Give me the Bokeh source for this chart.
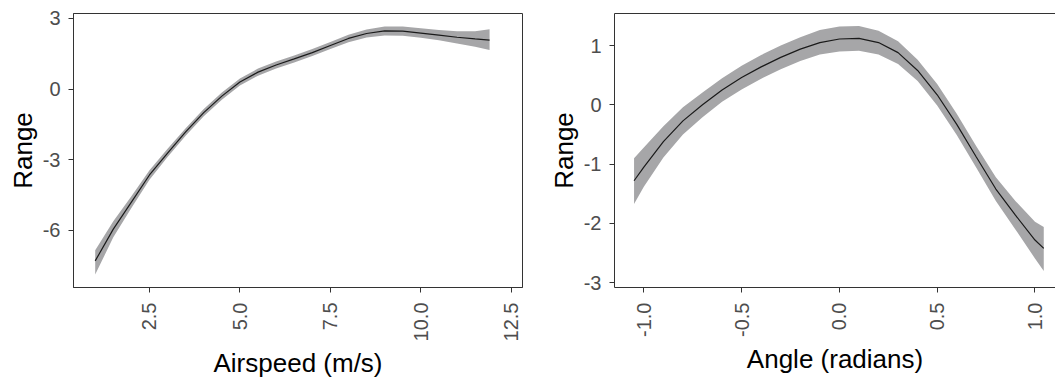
import math
from bokeh.plotting import figure
from bokeh.models import Range1d, FixedTicker, NumeralTickFormatter, LinearAxis
from bokeh.layouts import row
from bokeh.embed import file_html
from bokeh.resources import INLINE

# ---- Left panel: Airspeed ----
airspeed = [1.0, 1.5, 2.0, 2.5, 3.0, 3.5, 4.0, 4.5, 5.0, 5.5, 6.0, 6.5,
            7.0, 7.5, 8.0, 8.5, 9.0, 9.5, 10.0, 10.5, 11.0, 11.5, 11.9]
air_fit = [-7.30, -5.95, -4.80, -3.65, -2.72, -1.82, -1.00, -0.30, 0.30, 0.72, 1.02, 1.28,
           1.55, 1.85, 2.15, 2.36, 2.47, 2.46, 2.38, 2.29, 2.20, 2.13, 2.08]
air_lo = [-7.88, -6.30, -5.05, -3.85, -2.89, -1.98, -1.15, -0.45, 0.15, 0.57, 0.87, 1.13,
          1.40, 1.70, 1.99, 2.19, 2.28, 2.26, 2.18, 2.07, 1.94, 1.80, 1.66]
air_hi = [-6.85, -5.62, -4.55, -3.45, -2.54, -1.66, -0.85, -0.15, 0.45, 0.87, 1.17, 1.43,
          1.70, 2.00, 2.31, 2.53, 2.66, 2.66, 2.58, 2.51, 2.46, 2.46, 2.54]
air_xticks = [2.5, 5.0, 7.5, 10.0, 12.5]
air_yticks = [-6, -3, 0, 3]

# ---- Right panel: Angle ----
angle = [-1.05, -1.0, -0.9, -0.8, -0.7, -0.6, -0.5, -0.4, -0.3, -0.2, -0.1, 0.0,
         0.1, 0.2, 0.3, 0.4, 0.5, 0.6, 0.7, 0.8, 0.9, 1.0, 1.045]
ang_fit = [-1.28, -1.05, -0.62, -0.27, 0.00, 0.25, 0.46, 0.64, 0.80, 0.94, 1.05, 1.11,
           1.12, 1.05, 0.88, 0.58, 0.17, -0.33, -0.88, -1.42, -1.86, -2.28, -2.42]
ang_lo = [-1.67, -1.38, -0.89, -0.50, -0.21, 0.05, 0.26, 0.44, 0.60, 0.74, 0.85, 0.90,
          0.91, 0.85, 0.69, 0.40, -0.01, -0.51, -1.06, -1.62, -2.10, -2.59, -2.80]
ang_hi = [-0.90, -0.72, -0.36, -0.04, 0.21, 0.45, 0.66, 0.84, 1.00, 1.14, 1.26, 1.32,
          1.33, 1.25, 1.07, 0.76, 0.35, -0.15, -0.70, -1.22, -1.62, -1.97, -2.06]
ang_xticks = [-1.0, -0.5, 0.0, 0.5, 1.0]
ang_yticks = [-3, -2, -1, 0, 1]

FONT = "Liberation Sans"
TICK_COLOR = "#4D4D4D"
FRAME_COLOR = "#333333"
BAND_COLOR = "#A6A6A8"


def style_axis(ax, ticks, fmt, vertical=False):
    ax.ticker = FixedTicker(ticks=ticks)
    ax.formatter = NumeralTickFormatter(format=fmt)
    ax.major_tick_out = 5
    ax.major_tick_in = 0
    ax.minor_tick_line_color = None
    ax.major_tick_line_color = FRAME_COLOR
    ax.axis_line_color = FRAME_COLOR
    ax.major_label_text_font = FONT
    ax.major_label_text_font_size = "20px"
    ax.major_label_text_color = TICK_COLOR
    ax.axis_label_text_font = FONT
    ax.axis_label_text_font_size = "26px"
    ax.axis_label_text_font_style = "normal"
    ax.axis_label_text_color = "#000000"
    if vertical:
        ax.major_label_orientation = math.pi / 2
        ax.major_label_standoff = 10
        ax.axis_label_standoff = 4
    else:
        ax.major_label_standoff = 8
        ax.axis_label_standoff = 2


p1 = figure(width=530, height=381, output_backend="svg", toolbar_location=None,
            x_range=Range1d(0.40, 12.81), y_range=Range1d(-8.43, 3.21),
            min_border_left=73, min_border_right=8, min_border_top=13, min_border_bottom=91)
p1.varea(x=airspeed, y1=air_lo, y2=air_hi, fill_color=BAND_COLOR, fill_alpha=1.0)
p1.line(x=airspeed, y=air_fit, line_color="#1a1a1a", line_width=1.2)
p1.xaxis.axis_label = "Airspeed (m/s)"
p1.yaxis.axis_label = "Range"
style_axis(p1.xaxis[0], air_xticks, "0.0", vertical=True)
style_axis(p1.yaxis[0], air_yticks, "0")
p1.grid.visible = False
p1.outline_line_color = FRAME_COLOR
p1.outline_line_width = 1
p1.background_fill_color = "white"
p1.border_fill_color = "white"

p2 = figure(width=525, height=381, output_backend="svg", toolbar_location=None,
            x_range=Range1d(-1.15, 1.105), y_range=Range1d(-3.08, 1.54),
            min_border_left=84, min_border_right=0, min_border_top=13, min_border_bottom=91)
p2.varea(x=angle, y1=ang_lo, y2=ang_hi, fill_color=BAND_COLOR, fill_alpha=1.0)
p2.line(x=angle, y=ang_fit, line_color="#1a1a1a", line_width=1.2)
p2.xaxis.axis_label = "Angle (radians)"
p2.yaxis.axis_label = "Range"
style_axis(p2.xaxis[0], ang_xticks, "0.0", vertical=True)
style_axis(p2.yaxis[0], ang_yticks, "0")
top_axis = LinearAxis(ticker=FixedTicker(ticks=[]), major_tick_out=0, major_tick_in=0,
                      minor_tick_line_color=None, major_label_standoff=0,
                      major_label_text_font_size="0px", axis_line_color=FRAME_COLOR)
p2.add_layout(top_axis, "above")
p2.grid.visible = False
p2.outline_line_color = None
p2.background_fill_color = "white"
p2.border_fill_color = "white"

layout = row(p1, p2)
open("out.html", "w").write(file_html(layout, INLINE))
